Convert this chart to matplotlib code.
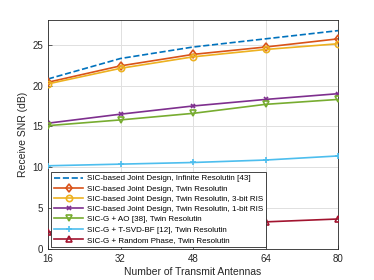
import numpy as np
import matplotlib
matplotlib.use("Agg")
import matplotlib.pyplot as plt

antennas = [16, 32, 48, 64, 80]
snr_infinite = [20.8, 23.3, 24.7, 25.7, 26.7]
snr_twin = [20.4, 22.4, 23.8, 24.7, 25.7]
snr_3bit = [20.2, 22.1, 23.5, 24.4, 25.1]
snr_1bit = [15.4, 16.5, 17.5, 18.3, 19.0]
snr_ao = [15.1, 15.8, 16.6, 17.7, 18.3]
snr_tsvd = [10.2, 10.4, 10.6, 10.9, 11.4]
snr_random = [2.1, 2.5, 2.9, 3.35, 3.7]

labels = [
    "SIC-based Joint Design, Infinite Resolutin [43]",
    "SIC-based Joint Design, Twin Resolutin",
    "SIC-based Joint Design, Twin Resolutin, 3-bit RIS",
    "SIC-based Joint Design, Twin Resolutin, 1-bit RIS",
    "SIC-G + AO [38], Twin Resolutin",
    "SIC-G + T-SVD-BF [12], Twin Resolutin",
    "SIC-G + Random Phase, Twin Resolutin",
]

plt.rcParams['font.family'] = ['Liberation Sans', 'DejaVu Sans']

fig = plt.figure(figsize=(3.74, 2.8), dpi=100)
ax = fig.add_axes([48 / 374, 1 - 249.3 / 280, 290 / 374, 229.3 / 280])

series = [snr_infinite, snr_twin, snr_3bit, snr_1bit, snr_ao, snr_tsvd, snr_random]
colors = ['#0072BD', '#D95319', '#EDB120', '#7E2F8E', '#77AC30', '#4DBEEE', '#A2142F']
markers = [None, 'd', 'o', 'x', 'v', '+', '^']
msizes = [4, 4.5, 4.5, 3, 4.5, 4.5, 4.5]
styles = ['--', '-', '-', '-', '-', '-', '-']

for y, c, m, ms, ls, lab in zip(series, colors, markers, msizes, styles, labels):
    ax.plot(antennas, y, color=c, marker=m, linestyle=ls, lw=1.2,
            markersize=ms, markerfacecolor='none', markeredgewidth=1.2,
            label=lab, zorder=3)

ax.set_xlim(16, 80)
ax.set_ylim(0, 28)
ax.set_xticks(antennas)
ax.set_yticks([0, 5, 10, 15, 20, 25])
ax.grid(True, color='#e0e0e0', lw=0.7)
ax.set_axisbelow(True)
ax.tick_params(direction='in', labelsize=7, colors='#262626', length=3, width=0.5)
for s in ax.spines.values():
    s.set_linewidth(0.6)
    s.set_color('#262626')
ax.set_xlabel("Number of Transmit Antennas", fontsize=7.5, color='#262626', labelpad=2)
ax.set_ylabel("Receive SNR (dB)", fontsize=7.5, color='#262626', labelpad=3)

leg = ax.legend(loc='lower left', bbox_to_anchor=(0.012, 0.012), fontsize=5.8,
                frameon=True, fancybox=False, edgecolor='#262626', framealpha=1,
                handlelength=3.6, handletextpad=0.4, borderpad=0.35,
                labelspacing=0.32, borderaxespad=0)
leg.get_frame().set_linewidth(0.6)
leg.set_zorder(5)

fig.savefig("out.png", dpi=100)
